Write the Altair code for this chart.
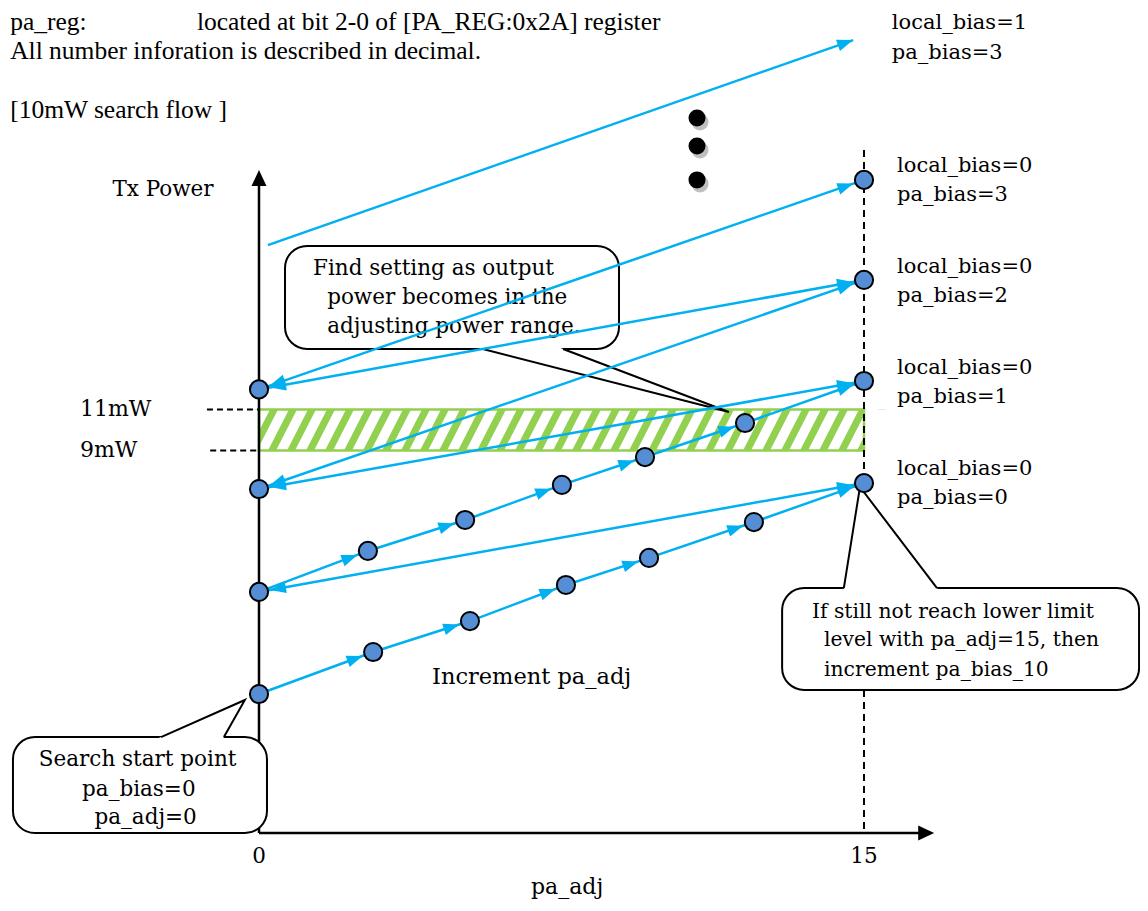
import math
import altair as alt
import pandas as pd

# ---------------- data: x = pa_adj, y = Tx power (mW scale of the sketch) ----------------
row0_adj = [0, 2.83, 5.23, 7.61, 9.67, 12.27, 15]
row0_pow = [-2.88, -0.83, 0.68, 2.44, 3.76, 5.51, 7.41]
row1_adj = [0, 2.70, 5.11, 7.51, 9.57, 12.05, 15]
row1_pow = [2.10, 4.10, 5.61, 7.32, 8.68, 10.34, 12.39]
start_pow = [-2.88, 2.10, 7.12, 11.98]      # points at pa_adj = 0
end_pow = [7.41, 12.39, 17.32, 22.20]       # points at pa_adj = 15
jumps = [(1, 0), (2, 1), (2, 2), (3, 2), (3, 3)]   # (start index, end index), double-headed
local_adj = [0.22, 14.73]
local_pow = [19.02, 29.02]
dots_adj = [10.86, 10.86, 10.86]
dots_pow = [25.22, 23.85, 22.20]
band_lo, band_hi = 9, 11
adj_min, adj_max = 0, 15
axis_pow = -9.66          # where the pa_adj axis sits
yaxis_top = 22.68
xaxis_end = 16.74
vdash_top = 23.66
lim_dash_adj = [-1.29, 0]

tick_labels = ["0", "15"]
tick_adj = [0, 15]
tick_pow = [-10.83, -10.83]

right_labels = ["local_bias=1", "pa_bias=3", "local_bias=0", "pa_bias=3", "local_bias=0",
                "pa_bias=2", "local_bias=0", "pa_bias=1", "local_bias=0", "pa_bias=0"]
right_adj = [15.69, 15.69] + [15.82] * 8
right_pow = [29.85, 28.39, 22.88, 21.46, 17.95, 16.54, 13.02, 11.61, 8.10, 6.68]

header_text = ["pa_reg:", "located at bit 2-0 of [PA_REG:0x2A] register",
               "All number inforation is described in decimal.", "[10mW search flow ]"]
header_adj = [-6.17, -1.54, -6.17, -6.17]
header_pow = [29.88, 29.88, 28.49, 25.61]

misc_text = ["Tx Power", "11mW", "9mW", "Increment pa_adj"]
misc_adj = [-2.38, -4.44, -4.44, 4.29]
misc_pow = [21.71, 11.0, 9.0, -2.05]
misc_align = ["center", "left", "left", "left"]
misc_size = [21.5, 22, 22, 22.5]

axis_title = ["pa_adj"]
axis_title_adj = [7.64]
axis_title_pow = [-12.29]

# callouts: box (x, x2, y, y2), pointer (base-left, base-right, tip)
box_x = [0.645, 12.97, -6.10]
box_x2 = [8.926, 21.82, 0.198]
box_y = [18.98, 2.29, -4.98]
box_y2 = [13.95, -2.68, -9.66]
ptr_bl = [(5.55, 13.95), (14.50, 2.29), (-2.43, -4.98)]
ptr_br = [(7.54, 13.95), (16.81, 2.29), (-0.87, -4.98)]
ptr_tip = [(11.65, 10.88), (14.90, 7.22), (-0.35, -3.17)]

c1_text = ["Find setting as output", "power becomes in the", "adjusting power range."]
c1_adj = [1.34, 1.69, 1.69]
c1_pow = [17.85, 16.44, 15.02]
c2_text = ["If still not reach lower limit", "level with pa_adj=15, then", "increment pa_bias_10"]
c2_adj = [13.71, 14.01, 14.01]
c2_pow = [1.12, -0.24, -1.71]
c3_text = ["Search start point", "pa_bias=0", "pa_adj=0"]
c3_adj = [-3.01, -2.98, -2.81]
c3_pow = [-6.10, -7.56, -8.93]

# ---------------- scales / styles ----------------
W, H = 1132, 895
X_DOMAIN = [-6.223, 21.843]
Y_DOMAIN = [-13.073, 30.585]
KX = W / (X_DOMAIN[1] - X_DOMAIN[0])
KY = H / (Y_DOMAIN[1] - Y_DOMAIN[0])
BLUE = "#00B0F0"
DOT = "#558ED5"
GREEN = "#92D050"
SERIF = "DejaVu Serif"
TIMES = "Liberation Serif"

xsc = alt.Scale(domain=X_DOMAIN, nice=False, zero=False)
ysc = alt.Scale(domain=Y_DOMAIN, nice=False, zero=False)


def ex(f="x"):
    return alt.X(f"{f}:Q", scale=xsc, axis=None)


def ey(f="y"):
    return alt.Y(f"{f}:Q", scale=ysc, axis=None)


def ang(x1, y1, x2, y2):
    dxp = (x2 - x1) * KX
    dyp = -(y2 - y1) * KY
    return math.degrees(math.atan2(dxp, -dyp)) % 360


HEAD_CIRC = "M0,1.12L0.6,2.72L-0.6,2.72Z"
HEAD_TIP = "M0,0L0.6,1.6L-0.6,1.6Z"
HEAD_AXIS = "M0,0L0.75,1.6L-0.75,1.6Z"

# ---------------- derived tables ----------------
segs, heads_c, pts = [], [], set()
for ax_, ay_ in [(row0_adj, row0_pow), (row1_adj, row1_pow)]:
    for i in range(len(ax_) - 1):
        segs.append(dict(x=ax_[i], y=ay_[i], x2=ax_[i + 1], y2=ay_[i + 1]))
        heads_c.append(dict(x=ax_[i + 1], y=ay_[i + 1], a=ang(ax_[i], ay_[i], ax_[i + 1], ay_[i + 1])))
    for a_, p_ in zip(ax_, ay_):
        pts.add((a_, p_))
for i, j in jumps:
    x1, y1, x2, y2 = adj_min, start_pow[i], adj_max, end_pow[j]
    segs.append(dict(x=x1, y=y1, x2=x2, y2=y2))
    heads_c.append(dict(x=x2, y=y2, a=ang(x1, y1, x2, y2)))
    heads_c.append(dict(x=x1, y=y1, a=ang(x2, y2, x1, y1)))
for p_ in start_pow:
    pts.add((adj_min, p_))
for p_ in end_pow:
    pts.add((adj_max, p_))
segs.append(dict(x=local_adj[0], y=local_pow[0], x2=local_adj[1], y2=local_pow[1]))
heads_t = [dict(x=local_adj[1], y=local_pow[1], a=ang(local_adj[0], local_pow[0], local_adj[1], local_pow[1]))]

seg_df = pd.DataFrame(segs)
headc_df = pd.DataFrame(heads_c)
headt_df = pd.DataFrame(heads_t)
pts_df = pd.DataFrame(sorted(pts), columns=["x", "y"])
dots_df = pd.DataFrame({"x": dots_adj, "y": dots_pow})

# hatch pattern for the adjusting power range
period, shift, sw = 19 / KX, 21 / KX, 8 / KX
stripes, k = [], 0
xb = adj_min - shift - sw
while xb < adj_max + 0.01:
    stripes.append(dict(id=k, y=band_lo, x=xb, x2=xb + sw))
    stripes.append(dict(id=k, y=band_hi, x=xb + shift, x2=xb + shift + sw))
    xb += period
    k += 1
stripe_df = pd.DataFrame(stripes)
cover_df = pd.DataFrame([
    dict(x=adj_min - 1.2, x2=adj_min, y=band_lo, y2=band_hi),
    dict(x=adj_max, x2=adj_max + 1.2, y=band_lo, y2=band_hi),
])
band_df = pd.DataFrame([dict(x=adj_min, x2=adj_max, y=band_lo, y2=band_hi)])

axis_df = pd.DataFrame([
    dict(x=adj_min, y=axis_pow, x2=adj_min, y2=yaxis_top - 0.4),
    dict(x=adj_min, y=axis_pow, x2=xaxis_end - 0.2, y2=axis_pow),
])
axis_head_df = pd.DataFrame([
    dict(x=adj_min, y=yaxis_top, a=0.0),
    dict(x=xaxis_end, y=axis_pow, a=90.0),
])
lim_df = pd.DataFrame([
    dict(x=lim_dash_adj[0], x2=lim_dash_adj[1], y=band_hi, y2=band_hi),
    dict(x=lim_dash_adj[0] + 0.08, x2=lim_dash_adj[1], y=band_lo, y2=band_lo),
])
vdash_df = pd.DataFrame([dict(x=adj_max, x2=adj_max, y=vdash_top, y2=axis_pow)])

box_df = pd.DataFrame({"x": box_x, "x2": box_x2, "y": box_y, "y2": box_y2})
ptr_fill, ptr_line = [], []
for cid, (bl, br, tp) in enumerate(zip(ptr_bl, ptr_br, ptr_tip)):
    e = 3 / (abs(bl[1] - tp[1]) * KY)
    ly = bl[1] + (bl[1] - tp[1]) * e
    lx = bl[0] + (bl[0] - tp[0]) * e
    rx = br[0] + (br[0] - tp[0]) * e
    ptr_fill.append(dict(id=cid, y=ly, x=lx, x2=rx))
    ptr_fill.append(dict(id=cid, y=tp[1], x=tp[0], x2=tp[0]))
    for o, p_ in enumerate([bl, tp, br]):
        ptr_line.append(dict(id=cid, o=o, x=p_[0], y=p_[1]))
ptr_fill_df = pd.DataFrame(ptr_fill)
ptr_line_df = pd.DataFrame(ptr_line)


def texts(xs, ys, ts, font, size, align="left"):
    df = pd.DataFrame({"x": xs, "y": ys, "t": ts})
    return alt.Chart(df).mark_text(align=align, baseline="middle", font=font, fontSize=size,
                                   color="black").encode(x=ex(), y=ey(), text="t:N")


layers = [
    alt.Chart(stripe_df).mark_area(orient="horizontal", color=GREEN, opacity=1).encode(
        y=ey(), x=ex(), x2=alt.X2("x2:Q"), detail="id:N"),
    alt.Chart(cover_df).mark_rect(color="white", opacity=1).encode(
        x=ex(), x2=alt.X2("x2:Q"), y=ey(), y2=alt.Y2("y2:Q")),
    alt.Chart(band_df).mark_rect(fillOpacity=0, stroke=GREEN, strokeWidth=2.5).encode(
        x=ex(), x2=alt.X2("x2:Q"), y=ey(), y2=alt.Y2("y2:Q")),
    alt.Chart(axis_df).mark_rule(color="black", strokeWidth=2.5).encode(
        x=ex(), x2=alt.X2("x2:Q"), y=ey(), y2=alt.Y2("y2:Q")),
    alt.Chart(axis_head_df).mark_point(shape=HEAD_AXIS, filled=True, size=400, color="black",
                                       opacity=1, strokeWidth=0).encode(
        x=ex(), y=ey(), angle=alt.Angle("a:Q", scale=None)),
    alt.Chart(lim_df).mark_rule(color="black", strokeWidth=1.8, strokeDash=[6, 4]).encode(
        x=ex(), x2=alt.X2("x2:Q"), y=ey(), y2=alt.Y2("y2:Q")),
    alt.Chart(vdash_df).mark_rule(color="black", strokeWidth=2, strokeDash=[7, 5]).encode(
        x=ex(), x2=alt.X2("x2:Q"), y=ey(), y2=alt.Y2("y2:Q")),
    alt.Chart(box_df).mark_rect(fill="white", stroke="black", strokeWidth=2, cornerRadius=22,
                                opacity=1).encode(
        x=ex(), x2=alt.X2("x2:Q"), y=ey(), y2=alt.Y2("y2:Q")),
    alt.Chart(ptr_fill_df).mark_area(orient="horizontal", color="white", opacity=1).encode(
        y=ey(), x=ex(), x2=alt.X2("x2:Q"), detail="id:N"),
    alt.Chart(ptr_line_df).mark_line(color="black", strokeWidth=2).encode(
        x=ex(), y=ey(), detail="id:N", order="o:Q"),
    texts(c1_adj, c1_pow, c1_text, SERIF, 21.5),
    texts(c2_adj, c2_pow, c2_text, SERIF, 20.3),
    texts(c3_adj, c3_pow, c3_text, SERIF, 21.5, "center"),
    alt.Chart(seg_df).mark_rule(color=BLUE, strokeWidth=2.5).encode(
        x=ex(), x2=alt.X2("x2:Q"), y=ey(), y2=alt.Y2("y2:Q")),
    alt.Chart(headc_df).mark_point(shape=HEAD_CIRC, filled=True, size=400, color=BLUE,
                                   opacity=1, strokeWidth=0).encode(
        x=ex(), y=ey(), angle=alt.Angle("a:Q", scale=None)),
    alt.Chart(headt_df).mark_point(shape=HEAD_TIP, filled=True, size=400, color=BLUE,
                                   opacity=1, strokeWidth=0).encode(
        x=ex(), y=ey(), angle=alt.Angle("a:Q", scale=None)),
    alt.Chart(pts_df).mark_circle(size=330, color=DOT, stroke="black", strokeWidth=2,
                                  opacity=1).encode(x=ex(), y=ey()),
    alt.Chart(dots_df).mark_circle(size=290, color="#BFBFBF", opacity=1, xOffset=3,
                                   yOffset=4).encode(x=ex(), y=ey()),
    alt.Chart(dots_df).mark_circle(size=290, color="black", opacity=1).encode(x=ex(), y=ey()),
    texts(header_adj, header_pow, header_text, TIMES, 25.5),
    texts(right_adj, right_pow, right_labels, SERIF, 21),
    texts(tick_adj, tick_pow, tick_labels, SERIF, 21.5, "center"),
    texts(axis_title_adj, axis_title_pow, axis_title, SERIF, 22, "center"),
]
for t_, a_, p_, al, sz in zip(misc_text, misc_adj, misc_pow, misc_align, misc_size):
    layers.append(texts([a_], [p_], [t_], SERIF, sz, al))

chart = alt.layer(*layers).properties(
    width=W, height=H, padding=0, autosize=alt.AutoSizeParams(type="none")
).configure_view(stroke=None)

chart.save("out.html", embed_options={"renderer": "svg", "actions": False})
